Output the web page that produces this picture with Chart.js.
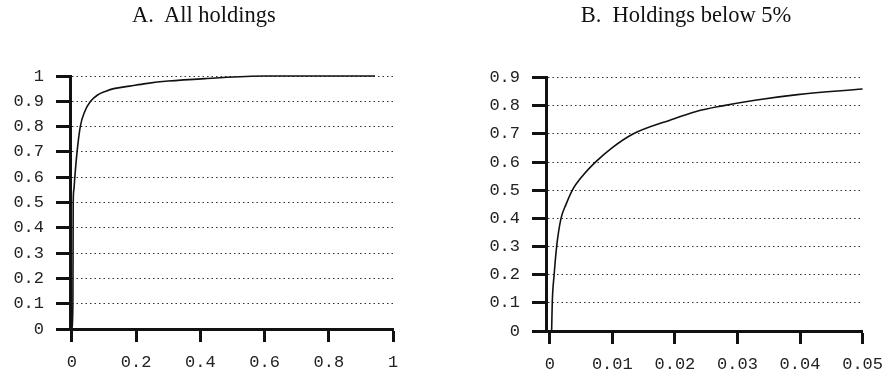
<!DOCTYPE html>
<html>
<head>
<meta charset="utf-8">
<script src="https://cdn.jsdelivr.net/npm/chart.js@4/dist/chart.umd.min.js"></script>
<style>
  html, body { margin: 0; padding: 0; background: #fff; overflow: hidden; }
  body { width: 893px; height: 376px; position: relative; }
  .panel { position: absolute; top: 0; height: 376px; }
  .title {
    position: absolute; top: 2px; width: 300px; text-align: center;
    font-family: 'Liberation Serif', 'Times New Roman', serif; font-size: 22.5px;
    line-height: 26px; color: #111; white-space: pre;
  }
</style>
</head>
<body>
<div class="panel" style="left:0;width:422px"><canvas id="chartA"></canvas></div>
<div class="panel" style="left:440px;width:453px"><canvas id="chartB"></canvas></div>
<div class="title" id="titleA" style="left:54px"></div>
<div class="title" id="titleB" style="left:536px"></div>
<script>
// panel A: all holdings (cumulative share vs holding size)
const titleA = "A.  All holdings";
const holdA = [0, 0.003, 0.004, 0.006, 0.009, 0.016, 0.026, 0.04, 0.058, 0.08, 0.106, 0.13, 0.18, 0.23, 0.3, 0.42, 0.6, 0.944];
const cumA = [0, 0.1, 0.5, 0.55, 0.6, 0.7, 0.8, 0.86, 0.9, 0.925, 0.94, 0.95, 0.96, 0.97, 0.98, 0.99, 1.0, 1.0];
const xTicksA = [0, 0.2, 0.4, 0.6, 0.8, 1];
const yTicksA = [0, 0.1, 0.2, 0.3, 0.4, 0.5, 0.6, 0.7, 0.8, 0.9, 1];

// panel B: holdings below 5%
const titleB = "B.  Holdings below 5%";
const holdB = [0.0003, 0.0004, 0.0007, 0.0011, 0.0018, 0.0026, 0.0036, 0.0052, 0.0073, 0.0099, 0.0133, 0.0193, 0.0234, 0.0276, 0.0328, 0.0396, 0.05];
const cumB = [0, 0.1, 0.2, 0.3, 0.4, 0.45, 0.5, 0.55, 0.6, 0.65, 0.7, 0.75, 0.78, 0.8, 0.82, 0.84, 0.86];
const xTicksB = [0, 0.01, 0.02, 0.03, 0.04, 0.05];
const yTicksB = [0, 0.1, 0.2, 0.3, 0.4, 0.5, 0.6, 0.7, 0.8, 0.9];

const monoFont = { family: "'Liberation Mono', 'Courier New', monospace", size: 17 };
const fmt = v => String(Number(v.toFixed(4)));

document.getElementById("titleA").textContent = titleA;
document.getElementById("titleB").textContent = titleB;

function makeChart(id, xs, ys, xTicks, yTicks, s) {
  const pts = xs.map((x, i) => ({ x: x, y: ys[i] }));
  return new Chart(document.getElementById(id), {
    type: "scatter",
    data: {
      datasets: [{
        data: pts,
        showLine: true,
        borderColor: "#111",
        borderWidth: 1.6,
        pointRadius: 0,
        cubicInterpolationMode: "monotone",
        clip: 6
      }]
    },
    options: {
      responsive: true,
      maintainAspectRatio: false,
      animation: false,
      layout: { padding: { left: 0, right: s.pr, top: s.pt, bottom: 0 } },
      plugins: {
        legend: { display: false },
        tooltip: { enabled: false },
        title: { display: false }
      },
      scales: {
        x: {
          type: "linear",
          min: s.xmin,
          max: xTicks[xTicks.length - 1],
          afterBuildTicks: sc => { sc.ticks = xTicks.map(v => ({ value: v })); },
          afterFit: sc => { sc.height = s.xh; },
          grid: { drawOnChartArea: false, drawTicks: true, tickLength: 13, tickWidth: 3, tickColor: "#111" },
          border: { display: true, color: "#111", width: 3 },
          ticks: { color: "#222", font: monoFont, padding: 10, maxRotation: 0, autoSkip: false, callback: v => fmt(v) }
        },
        y: {
          type: "linear",
          min: 0,
          max: yTicks[yTicks.length - 1],
          afterBuildTicks: sc => { sc.ticks = yTicks.map(v => ({ value: v })); },
          afterFit: sc => { sc.width = s.yw; },
          grid: { drawOnChartArea: true, drawTicks: true, tickLength: 14, tickWidth: 3, tickColor: "#111", color: "#333", lineWidth: 1 },
          border: { display: true, color: "#111", width: 3, dash: [1.5, 3] },
          ticks: { color: "#222", font: monoFont, padding: 12, autoSkip: false, callback: v => fmt(v) }
        }
      }
    }
  });
}

makeChart("chartA", holdA, cumA, xTicksA, yTicksA,
  { pr: 29, yw: 70, pt: 76, xh: 47, xmin: -0.006 });
makeChart("chartB", holdB, cumB, xTicksB, yTicksB,
  { pr: 23, yw: 106, pt: 77.7, xh: 45, xmin: -0.0006 });
</script>
</body>
</html>
